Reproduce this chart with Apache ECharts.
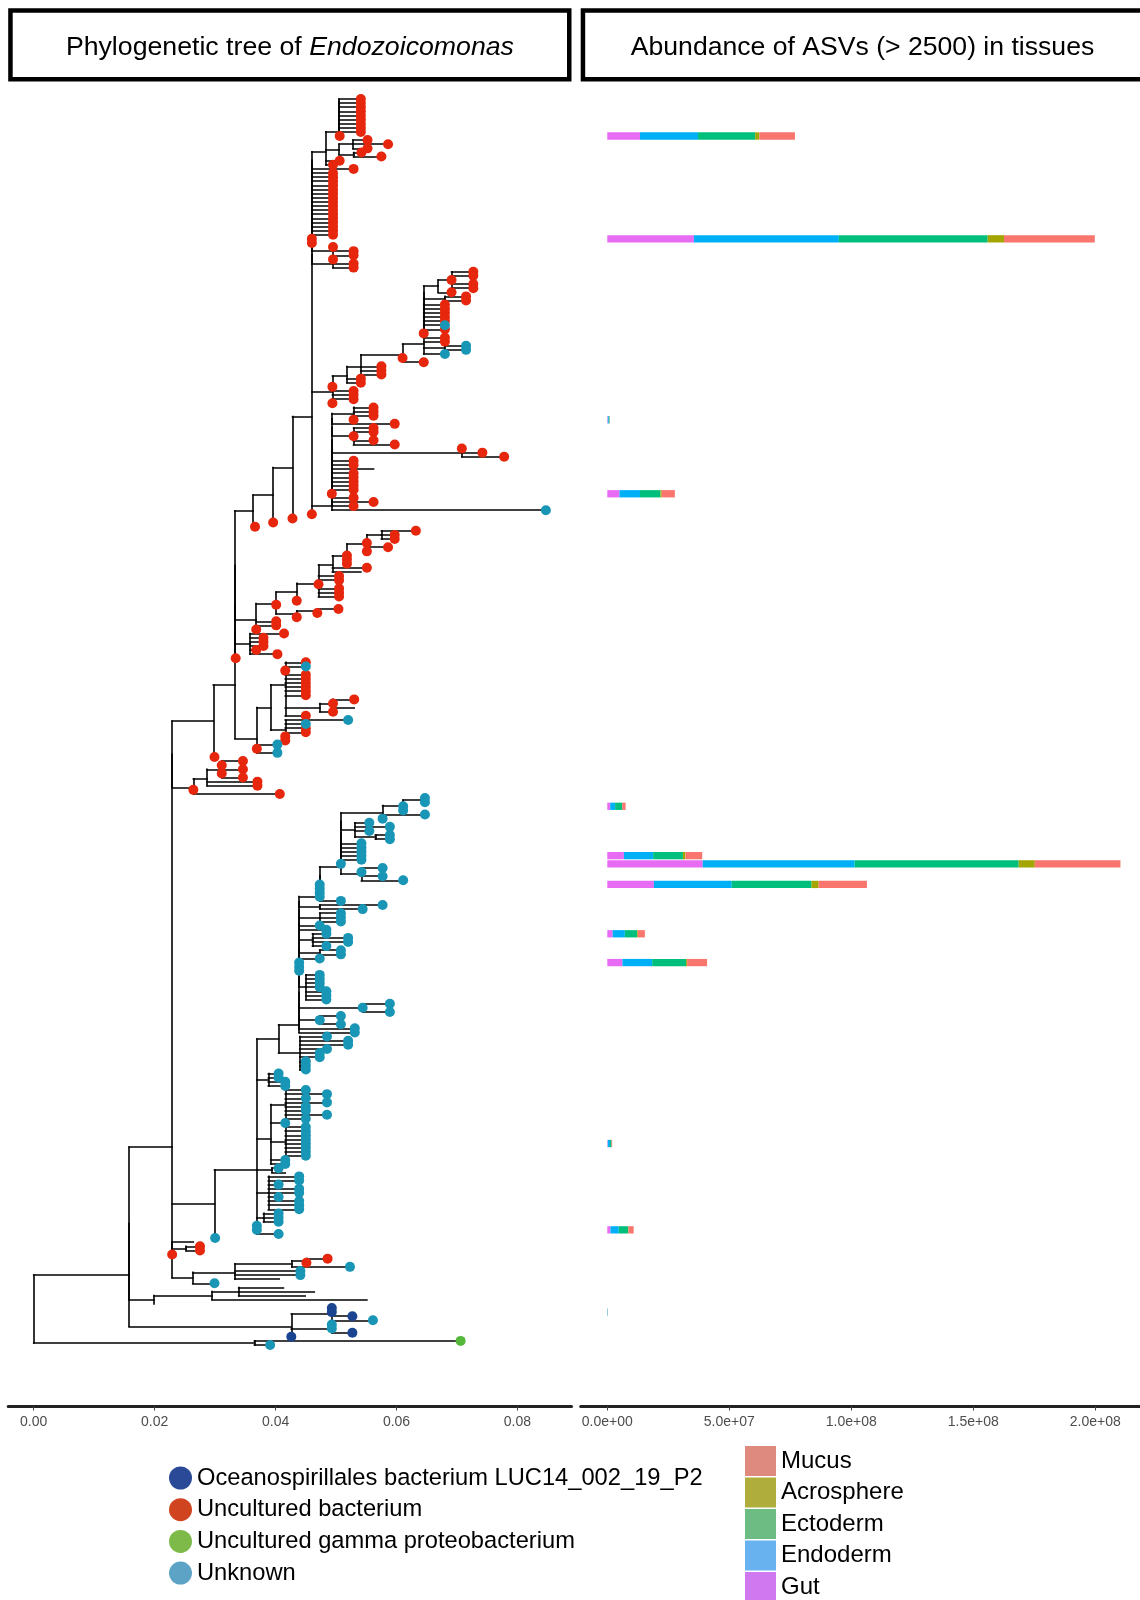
<!DOCTYPE html>
<html>
<head>
<meta charset="utf-8">
<title>Endozoicomonas tree and ASV abundance</title>
<script src="https://cdn.jsdelivr.net/npm/echarts@6/dist/echarts.min.js"></script>
<style>
    html, body { margin: 0; padding: 0; background: #fff; }
    #chart { width: 1140px; height: 1600px; }
</style>
</head>
<body>
<div id="chart"></div>
<script>
// ---- data ----
// tree pieces: tip = group letter + distance from root (x 1000), optional @n = ASV bar
// (..)x = node at distance x, [..]x = ladder of nested nodes all at x
// r = Uncultured bacterium, t = Unknown, b = Oceanospirillales, g = gamma, n = no label
var cladeQ = '([r54.1,r54.1,r54.1,r54.1,r54.1,r54.1,r54.1,r54.1,r54.1,r50.6@1]50.5,' +
    '((r55.2,r58.6,r55.2)52.8,(r54.2,r57.5)52.9)50.5,r50.6,r49.5)48.3';
var cladeX1 = '[' + cladeQ + ',r52.9,r49.5,r49.5,r49.5,r49.5,r49.5,r49.5,r49.5,r49.5,r49.5,r49.5,r49.5,r49.5,r49.5,r49.5,' +
    'r49.5,r49.5,r46@2,r46,(r49.5,r52.9,r52.9)49.5,(r49.5,r52.9,r52.9)49.5]46';
var cladeW = '((r72.7,r72.7,r69.1,r72.7,r72.7)69.1,r69.1)66.9';
var cladeV = '([' + cladeW + ',(r71.5,r71.5)68,r68,r68,r68,r68,r68,t68,r68,r64.5,r68]64.5,r68,(t71.5,t71.5)68,t68)64.5';
var cladeSS = '((((' + cladeV + ',r61,r64.5)61,r57.5,r57.5,r57.5)54.1,r54.1,r54.1)51.8,r49.4,r52.9,r52.9,r52.9,r49.4)49.4';
var cladeP = '[(r56.2,r56.2,r56.2,r52.9@3)52.9,r59.7,(r56.2,r56.2,r52.9,r56.2,r59.7)52.9,(r70.8,r74.2,r77.8)70.8,' +
    'r52.9,r52.9,n56.2,r52.9,r52.9,r52.9,r52.9,r52.9,r49.3@4,r52.9,r56.2,r52.9,t84.7]49.3';
var cladeL = '((((' + cladeX1 + ',' + cladeSS + ',' + cladeP + ',r46)46,r42.8)42.8,r39.6)39.6,r36.6)36.3';

var cladeX4 = '((r63.2,r59.7,r59.7)57.5,r55.1,r58.6,r55.1)55.1';
var cladeX2 = '((' + cladeX4 + ',r51.8,r51.8,r51.8)51.8,r55.1,n54.1)49.4';
var cladeM = '(((' + '(' + cladeX2 + ',r50.5,r50.5,r47.1,r50.5,r50.5,r50.5)47.1,r43.5)43.5,r40.1,' +
    '((r50.4,r46.9)46.9,r43.5)43.5)40.1,r40.1,r40.1,r36.8)36.8';
var cladeMb = '(r41.4,r38,r38,r38,r36.8,r40.3)35.8';
var cladeY = '(r45,t45,r41.6,r45,r45,r45,r45,r45,r45,((r53,r49.5,n53)49.5,r49.5)47.3,r45)41.6';
var cladeN = '((' + cladeY + ',(t52,t45,r45,r45,r41.6,r41.6)41.6)39.2,t40.3,r36.9,t40.3)36.9';
var cladeE = '([' + cladeL + ',' + cladeM + ',' + cladeMb + ',r33.4,' + cladeN + ']33.3,r29.9)29.7';
var cladeF = '(((r34.6,r31.1,r34.6,r31.1,r34.6)31.1,r37,r37)28.7,r26.4,r40.7)26.4';

var cladeZ1 = '(((t64.7,t64.7)64.7,t61.1@5,t61.1)61.1,t64.7,t57.7)57.7';
var cladeZ = '[' + cladeZ1 + ',(t55.5,t58.9,t55.5,(t58.9,t58.9)56.5)53.1,t54.2,t54.2,t54.2,t54.2@6,t54.2,t50.8@7,' +
    '(t57.7,t54.2,t57.7,t61.1)54.2]50.8';
var cladeH2 = '[[' + cladeZ + ',t47.3@8,t47.3,t47.3,t47.3,t50.8]47.3,(t57.7,t54.4)47.3,(t50.8,t50.8,t50.8)47.3,t47.3,t48.4,' +
    '(t48.4@9,t52,t52,t48.4)46.1,(t50.8,t50.8)47.3,t47.3,t43.9@10,t43.9,t43.9,' +
    '(t47.3,t47.3,t47.3,t47.3,t48.4,t48.4,t48.4)45,(t58.9,t54.4,t58.9)54.4,(t50.8,t47.3,t50.8)47.3,t53.1,t53.1]43.9';
var cladeH = '((' + cladeH2 + ',(t48.5,t52,t52,t48.5,t47.3,t47.3,t45,t45,t45)44)40.5,(t40.5,t40.5,t41.6,t41.6)38.8,' +
    '((t45,t48.5,t45,t48.5,t45,t45,t48.5,t45)41.6,t41.6,(t45,t45,t45,t45,t45@11,t45,t45,t45)41.6,t41.6,t41.6)39.2,' +
    '(t40.5,n41.6)39.4,(t43.9,t43.9,t40.5,t43.9,t43.9,t40.5,t43.9,t43.9,t43.9)38.8,(t40.5,t40.5,t40.5)38,' +
    't36.9,t36.9@12,t40.5)36.9';
var cladeI = '((((r48.6,r45.1)45.1,t52.3)42.7,t44.1,t44.1,n40.6)33.3,t29.9)26.3';
var cladeB = '((' + cladeE + ',' + cladeF + ')22.9,(' + cladeH + ',t30)29.9,(n26.4,(r27.5,r27.5)25.2)22.9,r22.9,' + cladeI + ')22.9';
var cladeC = '(((n41.3,n46.4,n44.9)33.9,n55.1)29.5,n19.9)19.9';
var cladeNavy = '((b49.3,b49.3@13,b52.7,t56.1)49.3,(t49.3,t49.3,b52.7)49.3,b42.6)42.6';
var treeText = '(((' + cladeB + ',' + cladeC + ')15.8,' + cladeNavy + ')15.8,(g70.6,t39.1)36.5)0';

var groupCode = ['b', 'r', 'g', 't'];
var tipGroups = ['Oceanospirillales bacterium LUC14_002_19_P2', 'Uncultured bacterium',
    'Uncultured gamma proteobacterium', 'Unknown'];

// ASV bars (abundance, millions), keyed by the @n tag on the tree tip
var asvTag = [1, 2, 3, 4, 5, 6, 7, 8, 9, 10, 11, 12, 13];
var gutAbund = [13.4, 35.5, 0.2, 5.0, 1.2, 6.8, 39.1, 19.1, 2.2, 6.2, 0.2, 1.3, 0.05];
var endoAbund = [23.8, 59.4, 0.4, 8.4, 2.0, 12.0, 62.3, 31.9, 5.0, 12.2, 0.9, 3.4, 0.1];
var ectoAbund = [23.4, 61.0, 0.3, 8.4, 2.9, 12.2, 67.2, 32.7, 5.0, 13.9, 0.6, 3.8, 0.1];
var acroAbund = [1.7, 6.7, 0, 0.5, 0, 1.0, 6.6, 2.9, 0.3, 0.4, 0, 0.2, 0];
var mucusAbund = [14.6, 37.2, 0.1, 5.4, 1.4, 6.9, 35.1, 19.8, 2.9, 8.2, 0.3, 2.1, 0.05];
var tissues = ['Gut', 'Endoderm', 'Ectoderm', 'Acrosphere', 'Mucus'];

var treeTicks = [0, 0.02, 0.04, 0.06, 0.08];
var abundTicks = [0, 5e7, 1e8, 1.5e8, 2e8];

// ---- styles ----
var tipColors = ['#1B4490', '#E6270D', '#55B83C', '#1996B6'];
var tipLegendColors = ['#2A4A98', '#D0441F', '#7DBA4A', '#5DA3C5'];
var tissueColors = ['#E76BF3', '#00B0F6', '#00BF7D', '#A3A500', '#F8766D'];
var tissueLegendColors = ['#CF78F0', '#68B2F0', '#6CBC84', '#AFAD3C', '#DE8A7E'];
var fontName = 'Liberation Sans, Arial, Helvetica, sans-serif';

// ---- parse the tree ----
function parseTree(text) {
    var s = text.replace(/\s+/g, '');
    var pos = 0;

    function readNum() {
        var m = /^[0-9.]+/.exec(s.slice(pos));
        pos += m[0].length;
        return parseFloat(m[0]) / 1000;
    }

    function readNode() {
        var c = s[pos];
        if (c === '(' || c === '[') {
            pos++;
            var kids = [readNode()];
            while (s[pos] === ',') {
                pos++;
                kids.push(readNode());
            }
            pos++;
            var x = readNum();
            if (c === '(') return { x: x, children: kids };
            var cur = kids[0];
            for (var i = 1; i < kids.length; i++) {
                cur = { x: x, children: [cur, kids[i]] };
            }
            return cur;
        }
        pos++;
        var tip = { group: c, x: readNum() };
        if (s[pos] === '@') {
            pos++;
            var m = /^[0-9]+/.exec(s.slice(pos));
            pos += m[0].length;
            tip.tag = +m[0];
        }
        return tip;
    }
    return readNode();
}

var root = parseTree(treeText);
var tips = [];
var tagY = {};

function layout(node) {
    if (!node.children) {
        node.y = tips.length;
        tips.push(node);
        if (node.tag) tagY[node.tag] = node.y;
        return;
    }
    var sum = 0;
    node.children.forEach(function (c) {
        layout(c);
        sum += c.y;
    });
    node.y = sum / node.children.length;
}
layout(root);

var segs = [];
function collect(node, parentX) {
    if (parentX !== null && Math.abs(node.x - parentX) > 1e-9) {
        segs.push({ coords: [[parentX, node.y], [node.x, node.y]] });
    }
    if (node.children) {
        var ys = node.children.map(function (c) { return c.y; });
        segs.push({ coords: [[node.x, Math.min.apply(null, ys)], [node.x, Math.max.apply(null, ys)]] });
        node.children.forEach(function (c) { collect(c, node.x); });
    }
}
collect(root, null);

// tip index -> pixel: first tip at y 99, last at 1345, panels from 85 to 1406.5
var nTips = tips.length;
var step = (1345 - 99) / (nTips - 1);
var yMin = -(99 - 85) / step;
var yMax = (nTips - 1) + (1406.5 - 1345) / step;

function sci(v) {
    if (v === 0) return '0.0e+00';
    var e = Math.floor(Math.log10(v) + 1e-9);
    var m = v / Math.pow(10, e);
    return m.toFixed(1) + 'e+' + (e < 10 ? '0' + e : e);
}

var series = [];
series.push({
    type: 'lines',
    coordinateSystem: 'cartesian2d',
    xAxisIndex: 0,
    yAxisIndex: 0,
    polyline: false,
    silent: true,
    z: 2,
    lineStyle: { color: '#000', width: 1.6, opacity: 1, cap: 'square' },
    data: segs
});

groupCode.forEach(function (code, k) {
    var pts = [];
    tips.forEach(function (t) {
        if (t.group === code) pts.push([t.x, t.y]);
    });
    series.push({
        type: 'scatter',
        name: tipGroups[k],
        xAxisIndex: 0,
        yAxisIndex: 0,
        symbolSize: 10,
        z: 3,
        itemStyle: { color: tipColors[k], opacity: 1 },
        data: pts
    });
});

var abund = [gutAbund, endoAbund, ectoAbund, acroAbund, mucusAbund];
tissues.forEach(function (name, k) {
    var data = asvTag.map(function (tag, i) {
        var start = 0;
        for (var j = 0; j < k; j++) start += abund[j][i];
        return [tagY[tag], start * 1e6, (start + abund[k][i]) * 1e6];
    });
    series.push({
        type: 'custom',
        name: name,
        xAxisIndex: 1,
        yAxisIndex: 1,
        encode: { x: [1, 2], y: 0 },
        itemStyle: { color: tissueColors[k] },
        renderItem: function (params, api) {
            var a = api.coord([api.value(1), api.value(0)]);
            var b = api.coord([api.value(2), api.value(0)]);
            if (b[0] - a[0] <= 0) return;
            return {
                type: 'rect',
                shape: { x: a[0], y: a[1] - 3.65, width: b[0] - a[0], height: 7.3 },
                style: { fill: tissueColors[k] }
            };
        },
        data: data
    });
});

function xAxisFor(idx, min, max, ticks, fmt) {
    return {
        type: 'value',
        gridIndex: idx,
        min: min,
        max: max,
        splitLine: { show: false },
        axisLine: { show: true, onZero: false, lineStyle: { color: '#222', width: 3 } },
        axisTick: { show: true, customValues: ticks, length: 4, lineStyle: { color: '#444', width: 1 } },
        axisLabel: {
            customValues: ticks, formatter: fmt, margin: 9,
            color: '#4d4d4d', fontSize: 14, fontFamily: fontName
        }
    };
}

function yAxisFor(idx) {
    return { type: 'value', gridIndex: idx, inverse: true, min: yMin, max: yMax, show: false };
}

var chart = echarts.init(document.getElementById('chart'), null, { renderer: 'canvas' });
chart.setOption({
    animation: false,
    backgroundColor: '#fff',
    grid: [
        { left: 8.2, top: 85, width: 563.3, height: 1321.5, outerBoundsMode: 'none' },
        { left: 580.7, top: 85, width: 559.3, height: 1321.5, outerBoundsMode: 'none' }
    ],
    xAxis: [
        xAxisFor(0, -0.004217, 0.088937, treeTicks, function (v) { return v.toFixed(2); }),
        xAxisFor(1, -1.0902e7, 2.1832e8, abundTicks, sci)
    ],
    yAxis: [yAxisFor(0), yAxisFor(1)],
    legend: [
        {
            orient: 'vertical', left: 169, top: 1466, padding: 0, height: 200,
            itemWidth: 23, itemHeight: 23, itemGap: 7.7, icon: 'circle',
            selectedMode: false,
            textStyle: { color: '#000', fontSize: 23.7, fontFamily: fontName },
            data: tipGroups.map(function (n, k) {
                return { name: n, itemStyle: { color: tipLegendColors[k] } };
            })
        },
        {
            orient: 'vertical', left: 745, top: 1446, padding: 0, height: 200,
            itemWidth: 31, itemHeight: 30, itemGap: 1.5, icon: 'rect',
            selectedMode: false,
            textStyle: { color: '#000', fontSize: 24, fontFamily: fontName },
            data: tissues.slice().reverse().map(function (n) {
                var k = tissues.indexOf(n);
                return { name: n, itemStyle: { color: tissueLegendColors[k] } };
            })
        }
    ],
    graphic: [
        {
            type: 'rect', shape: { x: 10.45, y: 10.45, width: 558.8, height: 68.9 },
            style: { fill: '#fff', stroke: '#000', lineWidth: 4.5 }
        },
        {
            type: 'rect', shape: { x: 582.95, y: 10.45, width: 600, height: 68.9 },
            style: { fill: '#fff', stroke: '#000', lineWidth: 4.5 }
        },
        {
            type: 'text', x: 289.9, y: 48,
            style: {
                text: '{n|Phylogenetic tree of }{i|Endozoicomonas}',
                align: 'center', verticalAlign: 'middle',
                rich: {
                    n: { fontSize: 26.7, fontFamily: fontName, fill: '#000' },
                    i: { fontSize: 26.7, fontFamily: fontName, fontStyle: 'italic', fill: '#000' }
                }
            }
        },
        {
            type: 'text', x: 862.5, y: 48,
            style: {
                text: 'Abundance of ASVs (> 2500) in tissues',
                align: 'center', verticalAlign: 'middle',
                fontSize: 26.6, fontFamily: fontName, fill: '#000'
            }
        }
    ],
    series: series
});
</script>
</body>
</html>
